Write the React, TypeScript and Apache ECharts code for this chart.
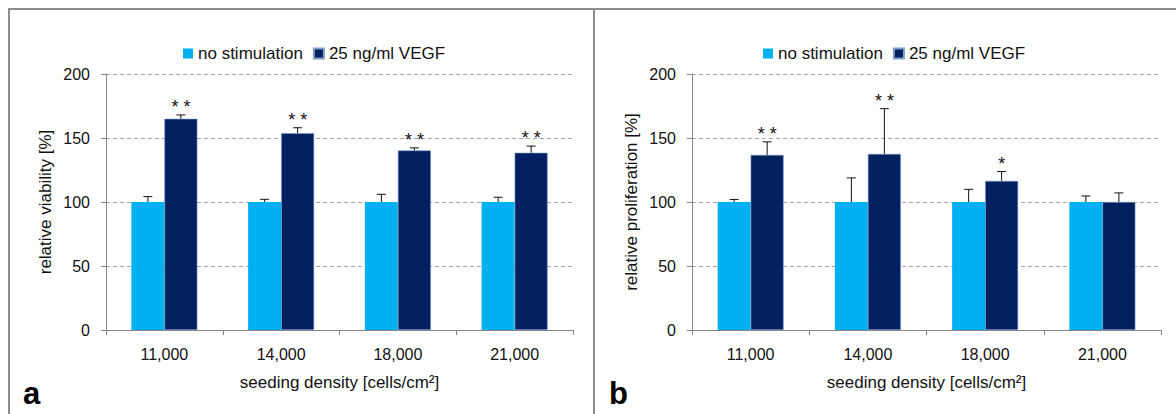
import React, { useEffect, useRef } from "react";
import * as echarts from "echarts";

const categories = ["11,000", "14,000", "18,000", "21,000"];
const seriesNames = ["no stimulation", "25 ng/ml VEGF"];

const viabilityNoStim = [100, 100, 100, 100];
const viabilityNoStimErr = [4.2, 2.1, 6, 3.7];
const viabilityVegf = [165, 153.8, 140.3, 138.5];
const viabilityVegfErr = [3, 4.2, 2, 5.2];
const viabilitySig = ["**", "**", "**", "**"];

const prolifNoStim = [100, 100, 100, 100];
const prolifNoStimErr = [2, 18.8, 9.9, 4.7];
const prolifVegf = [136.8, 137.6, 116.5, 100];
const prolifVegfErr = [10.2, 35.3, 7.3, 7.1];
const prolifSig = ["**", "**", "*", ""];

const yTicks = { min: 0, max: 200, interval: 50 };

const LIGHT = "#00b0f0";
const DARK = "#002060";
const BAR_W = 33;
const FONT = "'Liberation Sans', Arial, sans-serif";
const TEXT = "#111111";
const AXIS = "#868686";

function errData(vals: number[], errs: number[]) {
  return vals.map((v, i) => [i, v, v + errs[i]]);
}

function errSeries(
  idx: number,
  vals: number[],
  errs: number[],
  side: number,
  stars: string[] | null
) {
  return {
    type: "custom",
    name: "err" + idx + "_" + side,
    xAxisIndex: idx,
    yAxisIndex: idx,
    z: 5,
    data: errData(vals, errs),
    encode: { x: 0, y: [1, 2] },
    renderItem: (params: any, api: any) => {
      const i = api.value(0);
      const mean = api.value(1);
      const top = api.value(2);
      const b = api.coord([i, mean]);
      const t = api.coord([i, top]);
      const x = b[0] + (side * BAR_W) / 2;
      const children: any[] = [
        {
          type: "line",
          shape: { x1: x, y1: b[1], x2: x, y2: t[1] },
          style: { stroke: "#111", lineWidth: 1 },
        },
        {
          type: "line",
          shape: { x1: x - 4.5, y1: t[1], x2: x + 4.5, y2: t[1] },
          style: { stroke: "#111", lineWidth: 1 },
        },
      ];
      if (stars && stars[params.dataIndex]) {
        children.push({
          type: "text",
          x: x,
          y: t[1] + 1,
          style: {
            text: stars[params.dataIndex].split("").join(" "),
            fill: TEXT,
            font: "18px " + FONT,
            align: "center",
            verticalAlign: "bottom",
          },
        });
      }
      return { type: "group", children };
    },
  };
}

function axesFor(idx: number, name: string) {
  const x = {
    type: "category",
    gridIndex: idx,
    data: categories,
    name: "seeding density [cells/cm²]",
    nameLocation: "middle",
    nameGap: 44,
    nameTextStyle: { color: TEXT, fontSize: 17, fontFamily: FONT },
    axisLine: { lineStyle: { color: AXIS, width: 1 } },
    axisTick: { show: true, length: 5, lineStyle: { color: AXIS } },
    axisLabel: { color: TEXT, fontSize: 16, fontFamily: FONT, margin: 16 },
  };
  const y = {
    type: "value",
    gridIndex: idx,
    min: yTicks.min,
    max: yTicks.max,
    interval: yTicks.interval,
    name,
    nameLocation: "middle",
    nameGap: 52,
    nameTextStyle: { color: TEXT, fontSize: 17, fontFamily: FONT },
    axisLine: { show: true, lineStyle: { color: AXIS, width: 1 } },
    axisTick: { show: true, length: 5, lineStyle: { color: AXIS } },
    axisLabel: { color: TEXT, fontSize: 16, fontFamily: FONT, margin: 16 },
    splitLine: { show: true, lineStyle: { color: "#a6a6a6", type: [4, 3], width: 1 } },
  };
  return { x, y };
}

export default function App() {
  const ref = useRef<HTMLDivElement>(null);
  useEffect(() => {
    if (!ref.current) return;
    const chart = echarts.init(ref.current, null, { renderer: "svg" });
    const a = axesFor(0, "relative viability [%]");
    const b = axesFor(1, "relative proliferation [%]");
    const legendBase = {
      itemWidth: 10,
      itemHeight: 10,
      itemGap: 10,
      icon: "rect",
      data: seriesNames,
      textStyle: { color: TEXT, fontSize: 17, fontFamily: FONT },
      selectedMode: false,
    };
    chart.setOption({
      animation: false,
      backgroundColor: "#ffffff",
      grid: [
        { left: 106, width: 467, top: 74, bottom: 84 },
        { left: 692, width: 469, top: 74, bottom: 84 },
      ],
      legend: [
        { ...legendBase, left: 178, top: 40 },
        { ...legendBase, left: 758, top: 40 },
      ],
      xAxis: [a.x, b.x],
      yAxis: [a.y, b.y],
      graphic: [
        {
          type: "rect",
          shape: { x: 9, y: 9, width: 585, height: 430 },
          style: { fill: "none", stroke: "#8c8c8c", lineWidth: 2 },
          silent: true,
        },
        {
          type: "rect",
          shape: { x: 594, y: 9, width: 600, height: 430 },
          style: { fill: "none", stroke: "#8c8c8c", lineWidth: 2 },
          silent: true,
        },
        {
          type: "text",
          left: 23,
          top: 378,
          style: { text: "a", font: "bold 31px " + FONT, fill: "#000" },
        },
        {
          type: "text",
          left: 609,
          top: 378,
          style: { text: "b", font: "bold 31px " + FONT, fill: "#000" },
        },
      ],
      series: [
        {
          type: "bar",
          name: seriesNames[0],
          xAxisIndex: 0,
          yAxisIndex: 0,
          data: viabilityNoStim,
          barWidth: BAR_W,
          barGap: "0%",
          itemStyle: { color: LIGHT },
        },
        {
          type: "bar",
          name: seriesNames[1],
          xAxisIndex: 0,
          yAxisIndex: 0,
          data: viabilityVegf,
          barWidth: BAR_W,
          barGap: "0%",
          itemStyle: { color: DARK, borderColor: "#7f9cc4", borderWidth: 0.6 },
        },
        {
          type: "bar",
          name: seriesNames[0],
          xAxisIndex: 1,
          yAxisIndex: 1,
          data: prolifNoStim,
          barWidth: BAR_W,
          barGap: "0%",
          itemStyle: { color: LIGHT },
        },
        {
          type: "bar",
          name: seriesNames[1],
          xAxisIndex: 1,
          yAxisIndex: 1,
          data: prolifVegf,
          barWidth: BAR_W,
          barGap: "0%",
          itemStyle: { color: DARK, borderColor: "#7f9cc4", borderWidth: 0.6 },
        },
        errSeries(0, viabilityNoStim, viabilityNoStimErr, -1, null),
        errSeries(0, viabilityVegf, viabilityVegfErr, 1, viabilitySig),
        errSeries(1, prolifNoStim, prolifNoStimErr, -1, null),
        errSeries(1, prolifVegf, prolifVegfErr, 1, prolifSig),
      ],
    });
    return () => chart.dispose();
  }, []);
  return (
    <div
      ref={ref}
      style={{ position: "absolute", left: 0, top: 0, width: 1176, height: 414, background: "#fff" }}
    />
  );
}
